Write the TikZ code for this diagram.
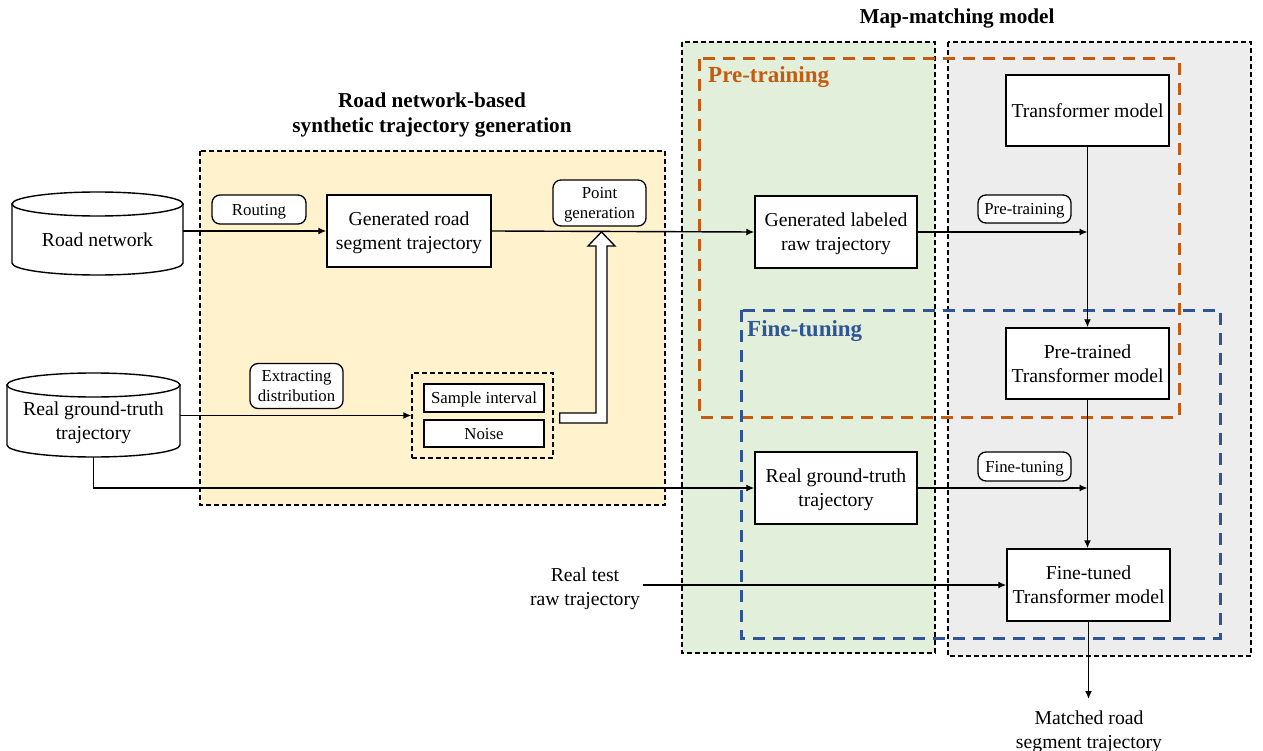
\documentclass[tikz,border=0pt]{standalone}
\usepackage{fontspec}
\setmainfont{Liberation Serif}
\usetikzlibrary{arrows.meta}
\definecolor{yel}{HTML}{FFF2CC}
\definecolor{grn}{HTML}{E2EFDA}
\definecolor{gry}{HTML}{EDEDED}
\definecolor{org}{HTML}{C55A11}
\definecolor{blu}{HTML}{2F5597}
\newcommand{\mainf}{\fontsize{19.7}{24}\selectfont}
\newcommand{\smallf}{\fontsize{16.8}{20.5}\selectfont}
\begin{document}
\begin{tikzpicture}[x=1pt,y=-1pt,
  bgbox/.style={draw=black, line width=1.4pt, dash pattern=on 5pt off 3pt},
  frameorg/.style={draw=org, line width=3pt, dash pattern=on 12pt off 8pt},
  frameblu/.style={draw=blu, line width=3pt, dash pattern=on 12pt off 8pt},
  mainbox/.style={draw=black, fill=white, line width=1.5pt, inner sep=0pt, align=center, font=\mainf, text depth=0pt},
  smallbox/.style={draw=black, fill=white, line width=1.3pt, inner sep=0pt, align=center, font=\smallf, text depth=0pt},
  lbl/.style={draw=black, fill=white, line width=1.3pt, rounded corners=8pt, inner sep=0pt, align=center, font=\smallf, text depth=0pt},
  plain/.style={inner sep=0pt, align=center, font=\mainf, text depth=0pt},
  titlef/.style={inner sep=0pt, align=center, font=\fontsize{21.2}{25}\selectfont\bfseries},
  arr/.style={line width=1.4pt, -{Latex[length=8pt,width=7pt]}},
  cylb/.style={draw=black, fill=white, line width=1.4pt}
]
\useasboundingbox (0,0) rectangle (1263,751);

% backgrounds
\draw[bgbox, fill=yel] (200,151) rectangle (665,505);
\draw[bgbox, fill=grn] (682,42) rectangle (935,653);
\draw[bgbox, fill=gry] (948,42) rectangle (1251,656);
\draw[frameorg] (699,59) rectangle (1179,417);
\draw[frameblu] (741,310) rectangle (1220,638);

% titles
\node[titlef] (t1) at (432,115) {Road network-based\\synthetic trajectory generation};
\node[titlef] (t2) at (957,18) {Map-matching model};
\node[inner sep=0pt, anchor=west, text=org, font=\fontsize{23}{26}\selectfont\bfseries] (ptl) at (708,77) {Pre-training};
\node[inner sep=0pt, anchor=west, text=blu, font=\fontsize{23}{26}\selectfont\bfseries] (ftl) at (747,331) {Fine-tuning};

% cylinders
\draw[cylb] (12,204) -- (12,263) arc[start angle=180, end angle=360, x radius=85.5pt, y radius=12pt] -- (183,204) -- cycle;
\draw[cylb] (97.5,204) ellipse [x radius=85.5pt, y radius=12pt];
\node[plain, minimum width=171pt, minimum height=71pt] (rn) at (97.5,240) {Road network};

\draw[cylb] (7,385) -- (7,445) arc[start angle=180, end angle=360, x radius=86.5pt, y radius=12pt] -- (180,385) -- cycle;
\draw[cylb] (93.5,385) ellipse [x radius=86.5pt, y radius=12pt];
\node[plain, minimum width=173pt, minimum height=72pt] (gt) at (93.5,421) {Real ground-truth\\trajectory};

% boxes
\node[mainbox, minimum width=164pt, minimum height=72pt] (gr) at (409,231) {Generated road\\segment trajectory};
\node[mainbox, minimum width=162pt, minimum height=72pt] (gl) at (836,232) {Generated labeled\\raw trajectory};
\node[mainbox, minimum width=163pt, minimum height=71pt] (tm) at (1087.5,110.5) {Transformer model};
\node[mainbox, minimum width=163pt, minimum height=71pt] (pt) at (1087.5,363.5) {Pre-trained\\Transformer model};
\node[mainbox, minimum width=162pt, minimum height=72pt] (rgt) at (836,488) {Real ground-truth\\trajectory};
\node[mainbox, minimum width=163pt, minimum height=72pt] (ft) at (1088.5,585) {Fine-tuned\\Transformer model};

% dashed group
\node[bgbox, minimum width=141pt, minimum height=85pt, inner sep=0pt] (grp) at (482.5,415.5) {};
\node[smallbox, minimum width=120pt, minimum height=28pt] (si) at (484,398) {Sample interval};
\node[smallbox, minimum width=120pt, minimum height=27pt] (no) at (484,433.5) {Noise};

% labels
\node[lbl, minimum width=94pt, minimum height=29pt] (rout) at (259,209.5) {Routing};
\node[lbl, minimum width=93pt, minimum height=46pt] (pgen) at (599.5,203) {Point\\generation};
\node[lbl, minimum width=93pt, minimum height=45pt] (extr) at (296.5,386) {Extracting\\distribution};
\node[lbl, minimum width=93pt, minimum height=28pt] (prl) at (1024.5,209) {Pre-training};
\node[lbl, minimum width=93pt, minimum height=29pt] (fnl) at (1024.5,466.5) {Fine-tuning};

% free texts
\node[plain] (rt) at (585,587) {Real test\\raw trajectory};
\node[plain] (mr) at (1089,730) {Matched road\\segment trajectory};
\coordinate (outend) at (1088.5,699);

% connectors
\draw[arr] (rn.east |- gr.west) -- (gr.west);
\draw[arr] (gr.east) -- (gl.west);
\draw[arr] (gt.east |- grp.west) -- (grp.west);
\draw[arr] (gt.south) -- (gt.south |- rgt.west) -- (rgt.west);
\draw[arr] (gl.east) -- (tm.south |- gl.east);
\draw[arr] (tm.south) -- (pt.north);
\draw[arr] (rgt.east) -- (pt.south |- rgt.east);
\draw[arr] (pt.south) -- (pt.south |- ft.north);
\draw[arr] ([xshift=3pt]rt.east |- ft.west) -- (ft.west);
\draw[arr] (ft.south) -- (outend);

% hollow arrow
\draw[line width=1.3pt, fill=white, line join=miter]
  ([xshift=6pt]grp.east |- 0,413) -- (596,413) -- (596,246) -- (588,246) -- (601.5,232)
  -- (615,246) -- (607,246) -- (607,423) -- ([xshift=6pt]grp.east |- 0,423) -- cycle;
\end{tikzpicture}
\end{document}
